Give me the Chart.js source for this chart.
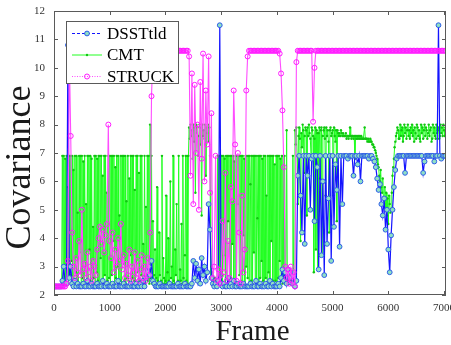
<!DOCTYPE html>
<html>
<head>
<meta charset="utf-8">
<script src="https://cdn.jsdelivr.net/npm/chart.js@4/dist/chart.umd.min.js"></script>
<style>
  html, body { margin: 0; padding: 0; background: #fff; }
  #wrap { width: 451px; height: 345px; }
</style>
</head>
<body>
<div id="wrap"><canvas id="c" width="451" height="345"></canvas></div>
<script>
// DSSTtld and STRUCK: one value every 25 frames
const frameStep = 25;
// CMT flickers much faster, so it is read every 12.5 frames
const cmtStep = 12.5;

const dsstTld = [
  2.3,2.3,2.3,2.3,2.3,2.3,2.5,3.0,2.4,2.4,10.8,2.6,3.0,2.4,2.3,2.5,2.3,2.4,2.3,2.3,
  2.3,2.4,2.3,2.3,2.5,2.3,2.3,2.4,2.3,2.3,2.3,2.4,2.3,2.3,2.3,2.5,2.3,2.3,2.4,2.3,
  2.3,2.3,2.4,2.3,2.3,2.3,2.5,2.3,2.3,2.3,2.4,2.3,2.3,2.3,2.3,2.4,2.3,2.3,2.3,2.4,
  2.3,2.3,2.4,2.3,2.5,2.3,2.6,2.8,3.0,2.7,3.2,2.5,2.4,2.3,2.3,2.3,2.4,2.3,2.3,2.3,
  2.3,2.3,2.3,2.4,2.3,2.3,2.3,2.3,2.3,2.4,2.3,2.3,2.3,2.3,2.4,2.3,2.3,2.3,2.3,2.4,
  3.2,2.6,3.1,2.5,2.9,2.4,3.3,2.7,3.0,2.5,2.8,5.2,4.3,2.6,2.4,2.3,2.4,2.3,2.5,11.5,
  2.4,2.3,2.4,2.3,2.3,2.6,2.3,2.4,2.3,2.5,2.3,2.3,2.4,2.3,2.3,2.3,2.4,2.3,2.3,2.3,
  2.3,2.4,2.3,2.3,2.3,2.5,2.3,2.3,2.4,2.3,2.3,2.3,2.4,2.3,2.3,2.5,2.3,2.4,2.3,2.3,
  2.3,2.4,2.3,2.6,2.9,2.5,2.8,2.4,2.9,2.6,2.8,2.4,2.7,2.3,2.5,6.2,6.9,5.5,4.2,6.9,
  3.8,6.9,6.2,6.9,5.0,6.8,6.9,4.6,6.9,6.5,2.9,6.9,3.4,6.0,2.7,6.9,3.8,5.4,6.9,3.2,
  6.9,4.4,6.6,5.7,6.9,3.7,6.9,5.2,6.9,6.9,6.9,6.8,6.9,6.9,6.9,6.2,6.9,6.9,6.6,6.9,
  6.0,6.9,6.9,6.9,6.9,6.9,6.8,6.9,6.9,6.8,6.7,6.5,6.1,5.7,5.9,5.2,4.8,5.4,4.3,5.0,
  3.6,2.8,4.1,5.0,5.8,6.4,6.8,6.9,6.9,6.9,6.9,6.9,6.3,6.9,6.9,6.9,6.9,6.9,6.9,6.9,
  6.9,6.9,6.9,6.9,6.9,6.3,6.7,6.9,6.9,6.9,6.9,6.9,6.9,6.7,6.9,6.9,11.5,6.9,6.8,6.9,
  6.9,6.9
];

const cmt = [
  2.3,2.3,2.3,2.3,2.3,2.3,2.3,2.3,2.3,2.3,2.3,2.3,6.9,2.5,6.9,3.0,6.8,2.4,6.9,2.6,5.8,2.4,6.9,2.7,6.9,3.2,6.9,2.5,6.4,2.4,6.9,2.8,6.9,2.5,4.9,2.4,6.9,3.5,6.9,2.4,
  6.9,2.6,6.7,2.4,6.9,3.0,5.2,2.5,6.9,2.4,6.9,3.6,6.9,2.5,6.8,2.4,4.4,2.6,6.9,2.4,6.9,2.8,6.8,2.5,6.9,2.4,6.9,3.3,6.9,2.5,6.2,2.4,6.9,2.7,6.9,2.4,5.6,2.5,6.9,2.6,
  6.9,2.4,6.9,2.7,6.9,3.9,6.9,2.4,6.5,2.6,6.9,3.0,6.9,2.4,4.8,2.5,6.9,2.4,6.9,3.1,6.9,2.5,6.9,2.4,5.3,2.6,6.9,2.5,6.1,3.4,6.9,2.4,6.9,2.6,6.9,2.5,5.7,2.4,6.9,2.8,
  6.9,2.4,6.3,2.5,6.9,2.7,6.9,2.4,3.8,2.5,6.9,2.4,5.1,2.6,6.9,2.5,6.9,2.4,8.0,2.6,6.9,2.4,4.6,2.5,2.7,3.6,2.4,2.6,5.8,2.5,2.4,4.2,2.7,2.4,2.5,6.9,2.4,3.3,2.6,2.4,
  2.5,5.5,2.4,2.8,4.0,2.5,2.4,6.0,2.6,3.0,2.4,6.9,2.5,2.4,3.6,2.7,5.2,2.4,2.5,6.9,2.4,2.9,2.5,4.5,2.4,6.9,2.6,2.4,3.4,6.9,2.5,6.9,2.4,6.9,7.9,7.5,8.0,7.6,7.8,6.8,
  8.0,7.4,7.9,5.6,8.0,7.7,7.9,6.9,7.6,8.0,7.3,7.9,4.8,8.0,7.6,7.8,7.5,8.0,6.2,7.9,7.7,8.0,7.4,7.9,6.9,2.6,3.0,2.4,2.8,2.5,2.4,2.6,2.3,2.5,2.4,6.9,2.5,6.9,2.4,6.9,
  2.5,6.9,2.4,6.9,3.4,6.8,2.4,6.9,2.6,6.9,4.6,6.9,2.4,6.9,2.6,6.9,3.8,6.9,2.5,6.7,2.4,6.9,2.4,6.9,5.2,6.9,2.7,6.9,2.5,6.9,2.4,6.9,4.1,6.8,2.4,6.9,3.0,6.9,2.6,6.9,
  2.4,6.9,5.9,2.5,6.9,2.4,6.9,3.5,6.9,2.5,6.9,2.4,4.7,6.9,2.4,6.9,2.6,6.9,3.2,6.8,2.5,6.9,2.4,6.9,2.6,5.5,2.4,6.9,2.8,6.9,2.4,6.9,3.9,6.9,2.5,6.9,2.4,6.6,2.5,6.9,
  2.4,6.9,2.6,6.9,3.2,6.8,2.5,6.9,2.4,6.9,2.6,6.9,2.4,2.6,7.8,2.5,2.8,2.4,2.6,2.5,2.4,2.8,2.5,6.9,2.4,2.6,7.8,7.3,7.9,6.9,5.2,7.6,7.9,7.5,3.9,7.7,7.2,8.0,7.8,6.3,
  7.6,7.9,7.8,4.8,7.9,7.6,8.0,7.7,7.5,6.9,7.9,7.8,7.6,2.8,7.5,7.9,3.6,7.8,7.7,2.9,7.7,7.9,6.1,7.8,7.9,3.4,7.6,7.8,7.9,7.5,5.5,7.9,7.6,7.8,7.4,4.2,7.8,7.9,7.6,7.7,
  7.8,5.5,7.9,7.6,7.4,7.8,4.6,7.8,7.7,7.6,7.7,7.6,7.8,7.7,7.6,7.7,7.6,7.6,7.6,7.7,7.5,7.6,7.6,7.5,7.6,7.9,7.6,7.5,7.6,7.6,7.5,7.6,6.8,7.6,7.5,7.6,7.5,7.6,7.5,7.6,
  7.5,7.6,7.5,7.5,7.5,7.5,7.9,7.5,7.5,7.5,7.4,7.5,7.4,7.4,7.5,7.4,7.4,7.3,7.3,7.2,7.2,7.1,7.0,6.9,6.8,6.6,6.5,6.2,6.0,6.4,5.8,5.6,6.1,5.4,5.2,5.8,5.0,5.6,4.8,5.4,
  4.5,5.5,5.2,4.9,5.0,5.6,6.2,6.5,6.8,7.2,7.4,7.6,7.7,7.9,7.8,7.5,7.5,8.0,7.6,7.8,7.9,7.4,7.6,8.0,7.7,7.9,7.5,7.8,8.0,7.6,7.8,7.5,7.9,7.7,8.0,7.6,7.8,7.4,7.9,7.7,
  7.5,8.0,7.9,7.6,7.8,7.5,7.4,8.0,7.7,7.9,7.5,7.8,8.0,7.6,7.9,7.8,7.5,7.7,8.0,7.6,7.8,7.9,7.4,7.5,8.0,7.7,7.9,7.6,7.5,8.0,7.7,7.8,7.9,7.5,7.6,8.0,7.7,7.9,7.6,8.0,
  7.8,7.6,7.9
];

const struck = [
  2.3,2.3,2.3,2.3,2.3,2.3,2.3,2.3,2.3,2.4,3.2,10.5,7.6,4.2,3.0,2.6,3.3,2.8,3.9,2.7,
  5.0,2.9,3.1,2.6,3.5,2.8,3.0,2.5,3.2,3.0,2.7,3.6,4.0,4.4,3.8,4.3,3.5,4.1,4.5,8.0,
  3.9,3.3,4.2,2.8,3.6,3.0,4.0,3.2,4.5,2.9,3.4,2.6,3.1,2.7,3.6,2.5,3.0,2.8,3.5,2.6,
  3.2,2.5,2.9,3.4,2.6,3.0,2.5,3.3,2.7,4.2,9.0,10.5,10.6,10.6,10.6,10.6,10.6,10.6,10.6,10.6,
  10.6,10.6,10.6,10.6,10.6,10.6,10.6,10.6,10.6,10.6,10.6,10.6,10.6,10.6,10.6,10.6,10.6,10.4,6.2,9.8,
  5.2,9.4,7.0,8.0,5.0,9.5,6.8,10.5,6.0,9.2,7.3,10.4,5.6,8.4,2.6,3.0,6.9,2.5,2.9,2.4,
  2.7,4.6,2.8,6.3,2.5,3.9,2.6,5.8,5.3,9.2,7.3,2.5,7.0,4.2,2.4,5.5,2.8,3.6,9.2,10.4,
  10.6,10.6,10.6,10.6,10.6,10.6,10.6,10.6,10.6,10.6,10.6,10.6,10.6,10.6,10.6,10.6,10.6,10.6,10.6,10.6,
  10.6,10.6,10.5,9.8,8.5,6.5,3.0,2.6,2.9,2.4,3.0,2.5,2.8,2.3,10.2,10.6,10.6,10.6,10.6,10.6,
  10.6,10.6,10.6,10.6,10.6,10.6,8.1,10.0,10.6,10.6,10.6,10.6,10.6,10.6,10.6,10.6,10.6,10.6,10.6,10.6,
  10.6,10.6,10.6,10.6,10.6,10.6,10.6,10.6,10.6,10.6,10.6,10.6,10.6,10.6,10.6,10.6,10.6,10.6,10.6,10.6,
  10.6,10.6,10.6,10.6,10.6,10.6,10.6,10.6,10.6,10.6,10.6,10.6,10.6,10.6,10.6,10.6,10.6,10.6,10.6,10.6,
  10.6,10.6,10.6,10.6,10.6,10.6,10.6,10.6,10.6,10.6,10.6,10.6,10.6,10.6,10.6,10.6,10.6,10.6,10.6,10.6,
  10.6,10.6,10.6,10.6,10.6,10.6,10.6,10.6,10.6,10.6,10.6,10.6,10.6,10.6,10.6,10.6,10.6,10.6,10.6,10.6,
  10.6,10.6
];

const seriesNames = ['DSSTtld', 'CMT', 'STRUCK'];
const xTicks = [0, 1000, 2000, 3000, 4000, 5000, 6000, 7000];
const yTicks = [2, 3, 4, 5, 6, 7, 8, 9, 10, 11, 12];
const xTitle = 'Frame';
const yTitle = 'Covariance';

const toPoints = (vals, step) => vals.map((v, i) => ({x: i * step, y: v}));
const serif = '"Liberation Serif", "Times New Roman", serif';
const axisColor = '#5a5a5a';

// legend line styles (dashed / solid / dotted like the matlab figure)
const legendDash = [[3, 2], [], [1, 1.5]];

const boxAndTitles = {
  id: 'boxAndTitles',
  afterDatasetsDraw(chart){
    const {ctx, chartArea: a, scales: {x, y}} = chart;
    ctx.save();
    ctx.strokeStyle = axisColor; ctx.lineWidth = 1;
    ctx.strokeRect(a.left + 0.5, a.top + 0.5, a.right - a.left - 1, a.bottom - a.top - 1);
    ctx.beginPath();
    xTicks.forEach(v => {
      const px = Math.round(x.getPixelForValue(v)) + 0.5;
      ctx.moveTo(px, a.bottom); ctx.lineTo(px, a.bottom - 4);
      ctx.moveTo(px, a.top); ctx.lineTo(px, a.top + 4);
    });
    yTicks.forEach(v => {
      const py = Math.round(y.getPixelForValue(v)) + 0.5;
      ctx.moveTo(a.left, py); ctx.lineTo(a.left + 4, py);
      ctx.moveTo(a.right, py); ctx.lineTo(a.right - 4, py);
    });
    ctx.stroke();
    ctx.restore();
  },
  afterDraw(chart){
    const ctx = chart.ctx;
    ctx.save();
    // axis titles
    ctx.fillStyle = '#1a1a1a';
    ctx.textAlign = 'center'; ctx.textBaseline = 'alphabetic';
    ctx.font = '29px ' + serif;
    ctx.fillText(xTitle, 252.5, 340);
    ctx.translate(30, 167.5); ctx.rotate(-Math.PI / 2);
    ctx.font = '36px ' + serif;
    ctx.fillText(yTitle, 0, 0);
    ctx.restore();

    // legend box
    const bx = 66, by = 21, bw = 112, bh = 62;
    ctx.save();
    ctx.fillStyle = '#fff'; ctx.fillRect(bx, by, bw, bh);
    ctx.strokeStyle = axisColor; ctx.lineWidth = 1;
    ctx.strokeRect(bx + 0.5, by + 0.5, bw, bh);
    chart.data.datasets.forEach((ds, i) => {
      const cy = by + 12.5 + i * 21.5;
      ctx.strokeStyle = ds.borderColor; ctx.lineWidth = 1;
      ctx.setLineDash(legendDash[i]);
      ctx.beginPath(); ctx.moveTo(72, cy); ctx.lineTo(102, cy); ctx.stroke();
      ctx.setLineDash([]);
      ctx.beginPath(); ctx.arc(87, cy, ds.pointRadius, 0, Math.PI * 2);
      ctx.fillStyle = ds.pointBackgroundColor;
      if (ds.pointBackgroundColor !== 'transparent') ctx.fill();
      if (ds.pointBorderWidth) { ctx.strokeStyle = ds.pointBorderColor; ctx.lineWidth = ds.pointBorderWidth; ctx.stroke(); }
      ctx.fillStyle = '#000'; ctx.font = '17px ' + serif;
      ctx.textAlign = 'left'; ctx.textBaseline = 'middle';
      ctx.fillText(ds.label, 107, cy + 1);
    });
    ctx.restore();
  }
};

const tickFont = {family: serif, size: 11};
// keep the plot box fixed: no automatic room for the outer tick labels
const noPad = s => { s.paddingLeft = 0; s.paddingRight = 0; s.paddingTop = 0; s.paddingBottom = 0; };

new Chart(document.getElementById('c'), {
  type: 'line',
  data: {
    datasets: [
      {label: seriesNames[0], data: toPoints(dsstTld, frameStep), borderColor: '#1414ff', borderWidth: 1.2,
       pointRadius: 2.4, pointBorderWidth: 1, pointBorderColor: '#2d5ce8', pointBackgroundColor: '#8fe0c4', order: 1},
      {label: seriesNames[1], data: toPoints(cmt, cmtStep), borderColor: '#22ff22', borderWidth: 1,
       pointRadius: 1.2, pointBorderWidth: 0, pointBorderColor: '#12c412', pointBackgroundColor: '#12c412', order: 2},
      {label: seriesNames[2], data: toPoints(struck, frameStep), borderColor: '#ff4cff', borderWidth: 1.1,
       pointRadius: 2.5, pointBorderWidth: 1, pointBorderColor: '#ff1aff', pointBackgroundColor: 'transparent', order: 0}
    ]
  },
  options: {
    responsive: false,
    animation: false,
    devicePixelRatio: 1,
    layout: {padding: {top: 11, right: 2, left: 0, bottom: 0}},
    plugins: {legend: {display: false}, tooltip: {enabled: false}},
    scales: {
      x: {
        type: 'linear', min: 0, max: 7035,
        afterFit: s => { s.height = 50; noPad(s); },
        afterBuildTicks: s => { s.ticks = xTicks.map(v => ({value: v})); },
        grid: {display: false, drawTicks: false},
        border: {display: false},
        ticks: {padding: 7, font: tickFont, color: '#333', maxRotation: 0, autoSkip: false, callback: v => String(v)}
      },
      y: {
        type: 'linear', min: 2, max: 12,
        afterFit: s => { s.width = 54; noPad(s); },
        afterBuildTicks: s => { s.ticks = yTicks.map(v => ({value: v})); },
        grid: {display: false, drawTicks: false},
        border: {display: false},
        ticks: {padding: 9, font: tickFont, color: '#333', autoSkip: false, callback: v => String(v)}
      }
    }
  },
  plugins: [boxAndTitles]
});
</script>
</body>
</html>
